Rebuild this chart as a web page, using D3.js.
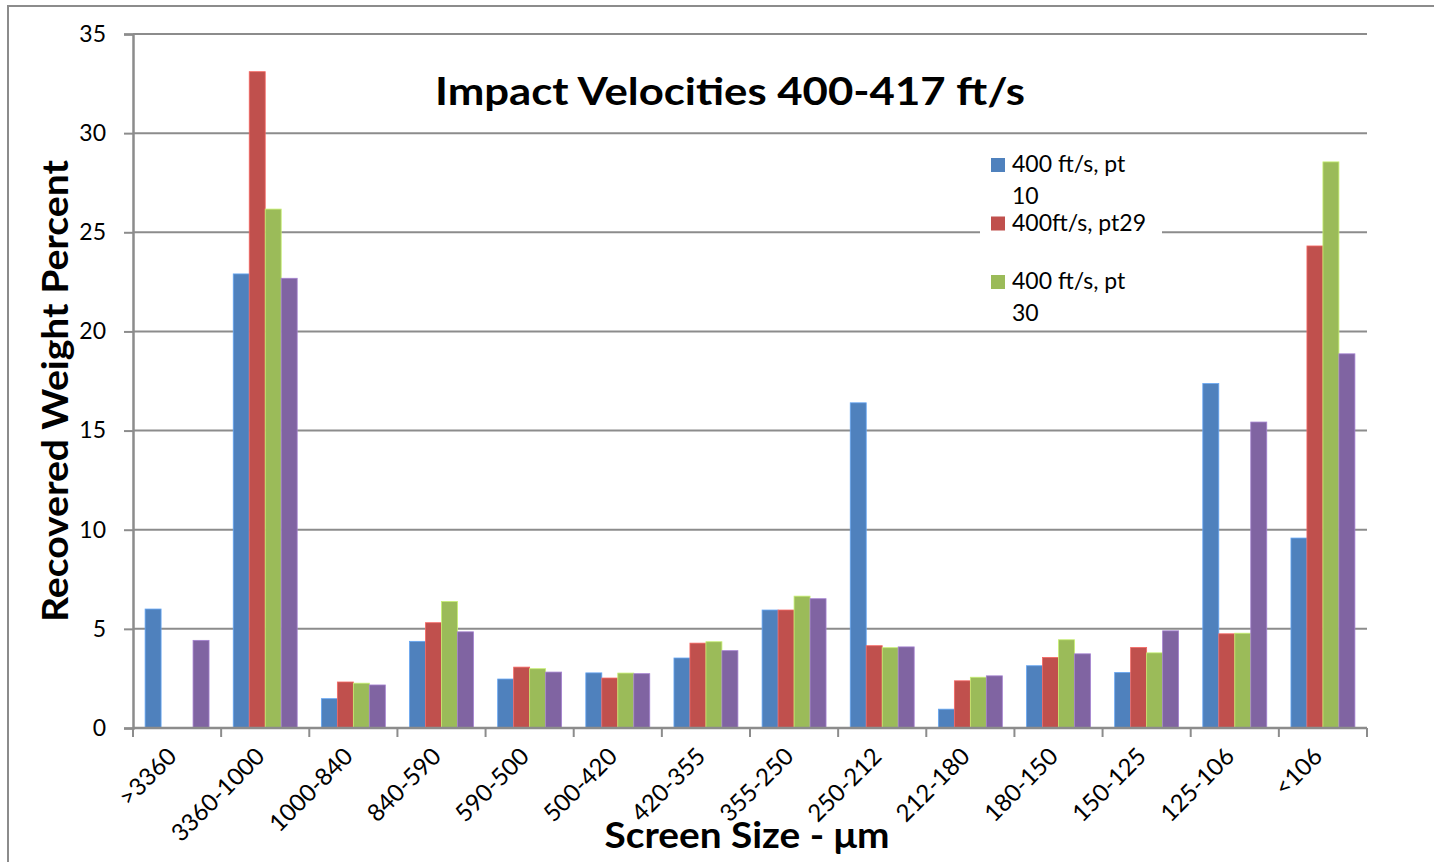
<!DOCTYPE html>
<html>
<head>
<meta charset="utf-8">
<script src="https://cdn.jsdelivr.net/npm/d3@7/dist/d3.min.js"></script>
<style>
	body { margin: 0; background: #fff; }
	text { font-family: Lato, "Open Sans", sans-serif; fill: #000; }
	.tick-label { font-size: 24px; }
	.axis-title { font-size: 36px; font-weight: bold; }
	.legend-text { font-size: 23px; }
</style>
</head>
<body>
<div id="chart"></div>
<script>
	// values
	var categories = [">3360", "3360-1000", "1000-840", "840-590", "590-500", "500-420", "420-355", "355-250", "250-212", "212-180", "180-150", "150-125", "125-106", "<106"];
	var pt10 = [6.0, 22.9, 1.48, 4.37, 2.47, 2.78, 3.53, 5.95, 16.4, 0.95, 3.14, 2.8, 17.37, 9.58];
	var pt29 = [0, 33.1, 2.32, 5.31, 3.07, 2.52, 4.28, 5.95, 4.15, 2.38, 3.56, 4.06, 4.75, 24.31];
	var pt30 = [0, 26.17, 2.26, 6.38, 2.99, 2.77, 4.35, 6.65, 4.05, 2.56, 4.45, 3.79, 4.78, 28.55];
	var pt4 = [4.42, 22.68, 2.17, 4.85, 2.82, 2.74, 3.9, 6.52, 4.09, 2.63, 3.74, 4.9, 15.43, 18.87];
	var seriesNames = ["400 ft/s, pt 10", "400ft/s, pt29", "400 ft/s, pt 30", "Series 4"];
	var legendLines = [["400 ft/s, pt", "10"], ["400ft/s, pt29"], ["400 ft/s, pt", "30"]];
	var yTicks = [0, 5, 10, 15, 20, 25, 30, 35];

	var colors = ["#4F81BD", "#C0504D", "#9BBB59", "#8064A2"];
	var allSeries = [pt10, pt29, pt30, pt4];

	var svgWidth = 1434;
	var svgHeight = 862;
	var plot = {left: 133, right: 1367, top: 34, bottom: 728};

	var svg = d3.select("#chart").append("svg")
		.attr("width", svgWidth)
		.attr("height", svgHeight);

	// chart border (only top and left show)
	svg.append("path")
		.attr("d", "M8," + svgHeight + "V6H" + svgWidth)
		.attr("fill", "none")
		.attr("stroke", "#8c8c8c")
		.attr("stroke-width", 2);

	var x = d3.scaleBand()
		.domain(categories)
		.range([plot.left, plot.right]);

	var xInner = d3.scaleBand()
		.domain(d3.range(allSeries.length))
		.range([12.1, x.bandwidth() - 12.1]);

	var y = d3.scaleLinear()
		.domain([0, 35])
		.range([plot.bottom, plot.top]);

	// gridlines
	svg.selectAll(".grid")
		.data(yTicks.filter(function(d) { return d > 0; }))
		.enter().append("line")
			.attr("class", "grid")
			.attr("x1", plot.left)
			.attr("x2", plot.right)
			.attr("y1", function(d) { return y(d); })
			.attr("y2", function(d) { return y(d); })
			.attr("stroke", "#8c8c8c")
			.attr("stroke-width", 2);

	// bars
	var groups = svg.selectAll(".group")
		.data(categories)
		.enter().append("g")
			.attr("class", "group")
			.attr("transform", function(d) { return "translate(" + x(d) + ",0)"; });

	groups.selectAll("rect")
		.data(function(d, i) { return allSeries.map(function(s, k) { return {k: k, v: s[i]}; }); })
		.enter().append("rect")
			.filter(function(d) { return d.v > 0; })
			.attr("x", function(d) { return xInner(d.k); })
			.attr("width", xInner.bandwidth())
			.attr("y", function(d) { return y(d.v); })
			.attr("height", function(d) { return y(0) - y(d.v); })
			.attr("fill", function(d) { return colors[d.k]; })
			.attr("stroke", function(d) { return d3.color(colors[d.k]).brighter(0.7); })
			.attr("stroke-width", 0.8);

	// y axis
	var yAxis = d3.axisLeft(y)
		.tickValues(yTicks)
		.tickSize(9)
		.tickPadding(18)
		.tickFormat(d3.format("d"));

	var yg = svg.append("g")
		.attr("transform", "translate(" + plot.left + ",0)")
		.call(yAxis);
	yg.select(".domain").attr("stroke", "#8c8c8c").attr("stroke-width", 2.5);
	yg.selectAll(".tick line").attr("stroke", "#8c8c8c").attr("stroke-width", 2);
	yg.selectAll(".tick text")
		.style("font-size", "23px")
		.style("font-family", "Lato, sans-serif")
		.attr("fill", "#000");

	// x axis
	var xg = svg.append("g")
		.attr("transform", "translate(0," + plot.bottom + ")");
	xg.append("line")
		.attr("x1", plot.left)
		.attr("x2", plot.right)
		.attr("stroke", "#8c8c8c")
		.attr("stroke-width", 2.5);
	xg.selectAll(".xtick")
		.data(categories.concat(["end"]))
		.enter().append("line")
			.attr("class", "xtick")
			.attr("x1", function(d, i) { return i < categories.length ? x(d) : plot.right; })
			.attr("x2", function(d, i) { return i < categories.length ? x(d) : plot.right; })
			.attr("y1", 0)
			.attr("y2", 9)
			.attr("stroke", "#8c8c8c")
			.attr("stroke-width", 2);

	svg.selectAll(".xlabel")
		.data(categories)
		.enter().append("text")
			.attr("class", "xlabel tick-label")
			.text(function(d) { return d; })
			.attr("text-anchor", "end")
			.attr("transform", function(d) {
				return "translate(" + (x(d) + x.bandwidth() / 2 + 1) + ",758) rotate(-45)";
			});

	// titles
	svg.append("text")
		.text("Impact Velocities 400-417 ft/s")
		.attr("class", "axis-title")
		.attr("x", 730)
		.attr("y", 105)
		.attr("text-anchor", "middle")
		.style("font-size", "38px")
		.attr("textLength", 590)
		.attr("lengthAdjust", "spacingAndGlyphs");

	svg.append("g")
		.attr("transform", "translate(68,391)")
		.append("text")
			.text("Recovered Weight Percent")
			.attr("class", "axis-title")
			.attr("transform", "rotate(-90)")
			.attr("text-anchor", "middle")
			.attr("textLength", 462)
			.attr("lengthAdjust", "spacingAndGlyphs");

	svg.append("text")
		.text("Screen Size - \u03bcm")
		.attr("class", "axis-title")
		.attr("x", 747)
		.attr("y", 848)
		.attr("text-anchor", "middle")
		.attr("textLength", 285)
		.attr("lengthAdjust", "spacingAndGlyphs");

	// legend (fourth series is cut off in the original)
	var legend = svg.append("g");
	legend.append("rect")
		.attr("x", 980)
		.attr("y", 140)
		.attr("width", 182)
		.attr("height", 188)
		.attr("fill", "#fff");

	var items = legend.selectAll(".legend-item")
		.data(legendLines)
		.enter().append("g")
			.attr("class", "legend-item")
			.attr("transform", function(d, i) { return "translate(991," + (158 + i * 58.5) + ")"; });

	items.append("rect")
		.attr("width", 14)
		.attr("height", 14)
		.attr("fill", function(d, i) { return colors[i]; });

	items.selectAll("text")
		.data(function(d) { return d; })
		.enter().append("text")
			.attr("class", "legend-text")
			.text(function(d) { return d; })
			.attr("x", 21)
			.attr("y", function(d, j) { return 14 + j * 32; });
</script>
</body>
</html>
